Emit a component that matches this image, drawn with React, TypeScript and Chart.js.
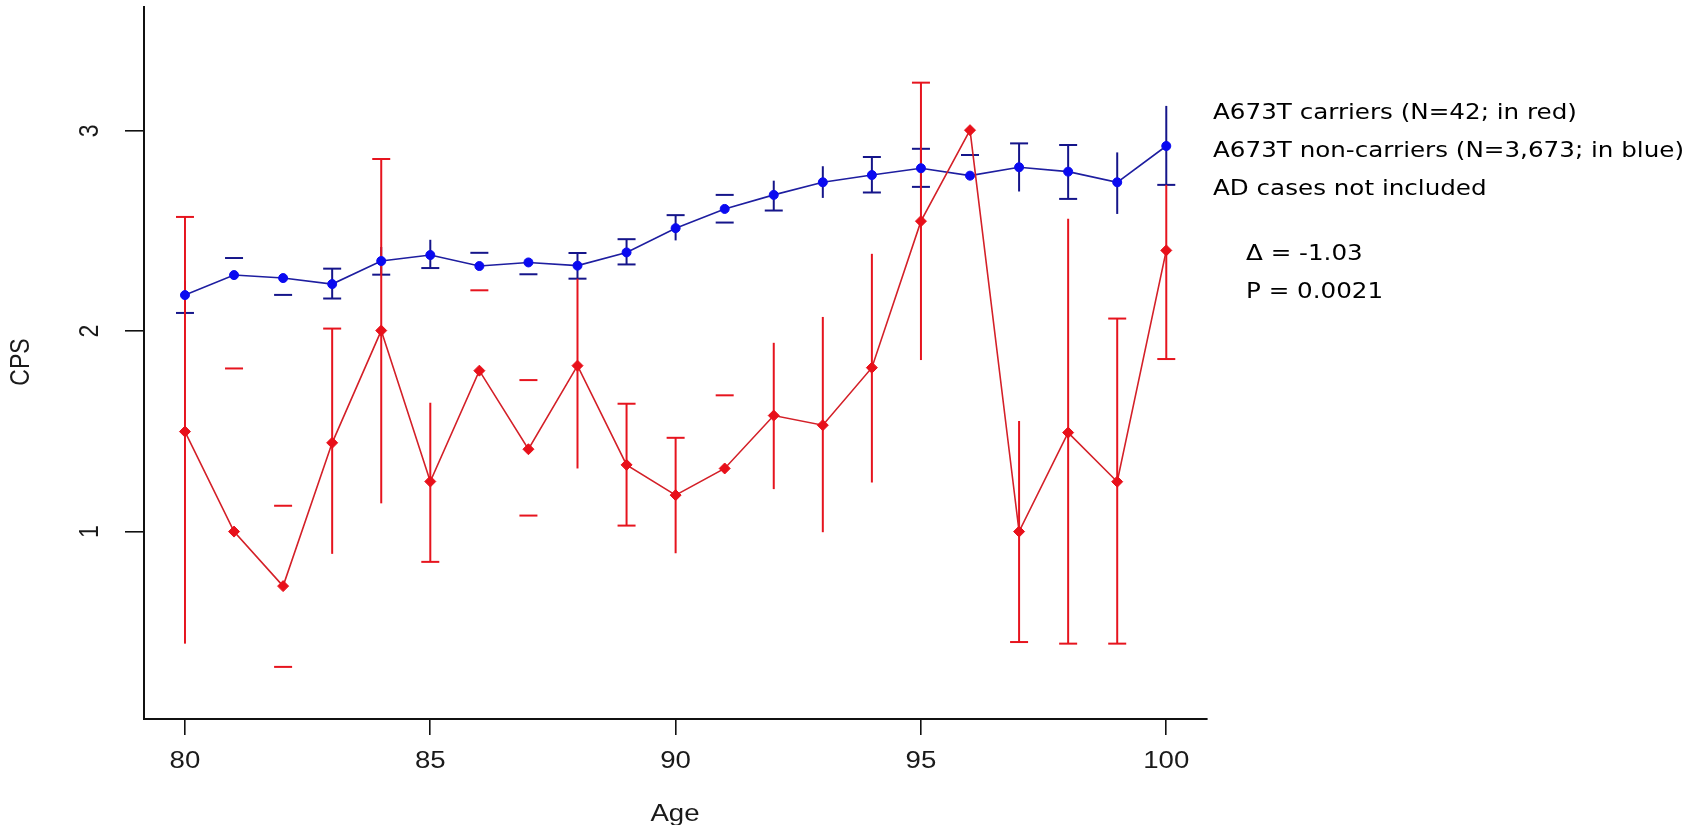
import React, { useEffect, useRef } from "react";
import { Chart, registerables } from "chart.js";

Chart.register(...registerables);

// ---- data ----
const ages = [80, 81, 82, 83, 84, 85, 86, 87, 88, 89, 90, 91, 92, 93, 94, 95, 96, 97, 98, 99, 100];

// A673T non-carriers (blue)
const blueMean = [2.18, 2.28, 2.265, 2.235, 2.35, 2.38, 2.325, 2.343, 2.327, 2.393, 2.514, 2.61, 2.68, 2.743, 2.779, 2.813, 2.776, 2.818, 2.796, 2.743, 2.924];
const blueHigh = [2.25, 2.365, null, 2.312, 2.42, 2.456, 2.391, null, 2.39, 2.459, 2.579, 2.68, 2.751, 2.823, 2.869, 2.91, 2.879, 2.937, 2.929, 2.892, 3.124];
const blueHighMode = ["b", "c", "", "bc", "b", "b", "c", "", "bc", "bc", "bc", "c", "b", "b", "bc", "bc", "c", "bc", "bc", "b", "b"];
const blueLow = [2.091, null, 2.181, 2.163, 2.282, 2.315, null, 2.284, 2.262, 2.333, 2.453, 2.542, 2.602, 2.665, 2.692, 2.72, null, 2.697, 2.66, 2.585, 2.73];
const blueLowMode = ["bc", "", "c", "bc", "bc", "bc", "", "c", "bc", "bc", "b", "c", "bc", "b", "bc", "bc", "", "b", "bc", "b", "bc"];

// A673T carriers (red)
const redMean = [1.499, 1.0, 0.728, 1.443, 2.003, 1.25, 1.803, 1.411, 1.828, 1.333, 1.182, 1.315, 1.579, 1.531, 1.818, 2.549, 3.003, 1.0, 1.494, 1.249, 2.403];
const redHigh = [2.57, 1.814, 1.129, 2.013, 2.859, 1.643, 2.204, 1.756, 2.262, 1.638, 1.468, 1.68, 1.942, 2.071, 2.386, 3.24, null, 1.552, 2.561, 2.063, 2.73];
const redHighMode = ["bc", "c", "c", "bc", "bc", "b", "c", "c", "b", "bc", "bc", "c", "b", "b", "b", "bc", "", "b", "b", "bc", "b"];
const redLow = [0.441, null, 0.325, 0.889, 1.141, 0.849, null, 1.08, 1.315, 1.03, 0.892, null, 1.212, 0.997, 1.245, 1.856, null, 0.449, 0.441, 0.441, 1.861];
const redLowMode = ["b", "", "c", "b", "b", "bc", "", "c", "b", "bc", "b", "", "b", "b", "b", "b", "", "bc", "bc", "bc", "bc"];

const xTicks = [80, 85, 90, 95, 100];
const yTicks = [1, 2, 3];
const xTitle = "Age";
const yTitle = "CPS";
const notes = [
  "A673T carriers (N=42; in red)",
  "A673T non-carriers (N=3,673; in blue)",
  "AD cases not included",
];
const stats = ["\u0394 = -1.03", "P = 0.0021"];

// ---- styling ----
const BLUE_PT = "#0a0af0";
const BLUE_LINE = "#1e1ea0";
const BLUE_ERR = "#15158a";
const RED_PT = "#e8101a";
const RED_LINE = "#d42028";
const RED_ERR = "#e6141e";
const AXIS = "#111111";
const LABEL_FONT = '"Liberation Sans", Arial, sans-serif';
const NOTE_FONT = '"DejaVu Sans", "Open Sans", sans-serif';
const STRETCH = 1.2; // the R figure is stretched horizontally

function drawErrBars(
  ctx: CanvasRenderingContext2D,
  xs: any,
  ys: any,
  mean: number[],
  hi: (number | null)[],
  hiMode: string[],
  lo: (number | null)[],
  loMode: string[],
  color: string
) {
  ctx.save();
  ctx.strokeStyle = color;
  ctx.lineWidth = 2;
  const half = 9;
  for (let i = 0; i < ages.length; i++) {
    const px = xs.getPixelForValue(ages[i]);
    const py = ys.getPixelForValue(mean[i]);
    const sides: [number | null, string][] = [
      [hi[i], hiMode[i]],
      [lo[i], loMode[i]],
    ];
    for (const [v, mode] of sides) {
      if (v === null || v === undefined) continue;
      const vy = ys.getPixelForValue(v);
      if (mode.includes("b")) {
        ctx.beginPath();
        ctx.moveTo(px, py);
        ctx.lineTo(px, vy);
        ctx.stroke();
      }
      if (mode.includes("c")) {
        ctx.beginPath();
        ctx.moveTo(px - half, vy);
        ctx.lineTo(px + half, vy);
        ctx.stroke();
      }
    }
  }
  ctx.restore();
}

function stretchedText(ctx: CanvasRenderingContext2D, s: string, x: number, y: number, rotate: boolean) {
  ctx.save();
  ctx.translate(x, y);
  ctx.scale(STRETCH, 1);
  if (rotate) ctx.rotate(-Math.PI / 2);
  ctx.fillText(s, 0, 0);
  ctx.restore();
}

const errPlugin = {
  id: "errbars",
  beforeDatasetsDraw(chart: any) {
    const { ctx, scales } = chart;
    drawErrBars(ctx, scales.x, scales.y, blueMean, blueHigh, blueHighMode, blueLow, blueLowMode, BLUE_ERR);
    drawErrBars(ctx, scales.x, scales.y, redMean, redHigh, redHighMode, redLow, redLowMode, RED_ERR);
  },
  afterDraw(chart: any) {
    const { ctx, scales } = chart;
    const xs = scales.x;
    const ys = scales.y;
    ctx.save();
    ctx.fillStyle = "#1a1a1a";
    ctx.font = `23px ${LABEL_FONT}`;
    ctx.textAlign = "center";
    ctx.textBaseline = "middle";
    for (const t of xTicks) {
      stretchedText(ctx, String(t), xs.getPixelForValue(t), 762, false);
    }
    for (const t of yTicks) {
      stretchedText(ctx, String(t), 90, ys.getPixelForValue(t), true);
    }
    ctx.font = `23px ${LABEL_FONT}`;
    stretchedText(ctx, xTitle, 675, 815, false);
    stretchedText(ctx, yTitle, 21, 362, true);

    // annotation text
    ctx.fillStyle = "#000000";
    ctx.textAlign = "left";
    ctx.font = `22px ${NOTE_FONT}`;
    const target = 471;
    const sx = target / ctx.measureText(notes[1]).width;
    const noteY = [113, 151, 189];
    notes.forEach((s, i) => {
      ctx.save();
      ctx.translate(1213, noteY[i]);
      ctx.scale(sx, 1);
      ctx.fillText(s, 0, 0);
      ctx.restore();
    });
    const statY = [254, 292];
    stats.forEach((s, i) => {
      ctx.save();
      ctx.translate(1246, statY[i]);
      ctx.scale(sx, 1);
      ctx.fillText(s, 0, 0);
      ctx.restore();
    });
    ctx.restore();
  },
};

export default function App() {
  const ref = useRef<HTMLCanvasElement | null>(null);
  useEffect(() => {
    if (!ref.current) return;
    const chart = new Chart(ref.current, {
      type: "line",
      data: {
        datasets: [
          {
            label: "carriers",
            data: ages.map((a, i) => ({ x: a, y: redMean[i] })),
            borderColor: RED_LINE,
            borderWidth: 1.6,
            backgroundColor: RED_PT,
            pointBackgroundColor: RED_PT,
            pointBorderColor: RED_PT,
            pointStyle: "rectRot",
            pointRadius: 5.5,
            pointBorderWidth: 1,
            tension: 0,
            fill: false,
          },
          {
            label: "non-carriers",
            data: ages.map((a, i) => ({ x: a, y: blueMean[i] })),
            borderColor: BLUE_LINE,
            borderWidth: 1.6,
            backgroundColor: BLUE_PT,
            pointBackgroundColor: BLUE_PT,
            pointBorderColor: BLUE_PT,
            pointStyle: "circle",
            pointRadius: 4.5,
            pointBorderWidth: 1,
            tension: 0,
            fill: false,
          },
        ],
      },
      options: {
        animation: false,
        responsive: false,
        devicePixelRatio: 1,
        events: [],
        layout: { padding: { left: 0, top: 5, right: 478, bottom: 0 } },
        plugins: { legend: { display: false }, tooltip: { enabled: false } },
        scales: {
          x: {
            type: "linear",
            min: 79.165,
            max: 100.83,
            afterBuildTicks: (s: any) => {
              s.ticks = xTicks.map((v) => ({ value: v }));
            },
            afterFit: (s: any) => {
              s.height = 106;
            },
            ticks: { display: false },
            grid: { drawOnChartArea: false, drawTicks: true, tickLength: 16, color: AXIS, lineWidth: 1.6 },
            border: { display: true, color: AXIS, width: 2 },
          },
          y: {
            type: "linear",
            min: 0.065,
            max: 3.62,
            afterBuildTicks: (s: any) => {
              s.ticks = yTicks.map((v) => ({ value: v }));
            },
            afterFit: (s: any) => {
              s.width = 144;
            },
            ticks: { display: false },
            grid: { drawOnChartArea: false, drawTicks: true, tickLength: 19, color: AXIS, lineWidth: 1.6 },
            border: { display: true, color: AXIS, width: 2 },
          },
        },
      },
      plugins: [errPlugin],
    });
    return () => chart.destroy();
  }, []);

  return (
    <div style={{ position: "absolute", left: 0, top: 0, width: 1685, height: 825, background: "#ffffff" }}>
      <canvas ref={ref} width={1685} height={825} style={{ display: "block" }} />
    </div>
  );
}
